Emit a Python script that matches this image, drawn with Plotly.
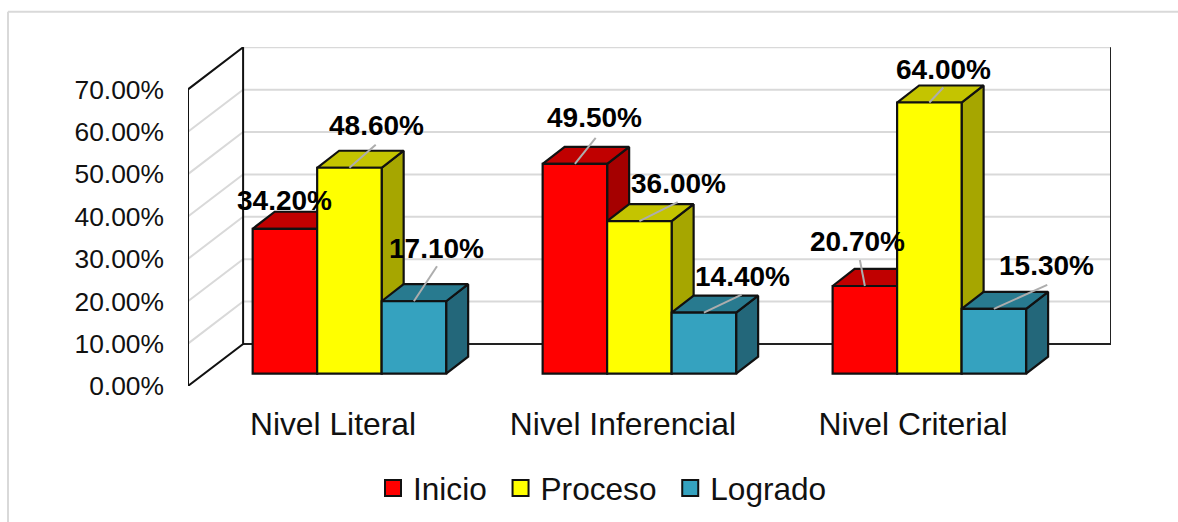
import plotly.graph_objects as go

# Chart data
categories = ["Nivel Literal", "Nivel Inferencial", "Nivel Criterial"]
series_names = ["Inicio", "Proceso", "Logrado"]
inicio = [0.342, 0.495, 0.207]
proceso = [0.486, 0.36, 0.64]
logrado = [0.171, 0.144, 0.153]
y_ticks = [0, 0.1, 0.2, 0.3, 0.4, 0.5, 0.6, 0.7]

series_values = [inicio, proceso, logrado]

# Face colours per series: front, top, side
front_colors = ["#FF0000", "#FFFF00", "#35A2BF"]
top_colors = ["#C00000", "#C4C400", "#287A8F"]
side_colors = ["#A50000", "#A6A600", "#23677A"]

# Oblique projection, in axis units
X_RANGE = [-0.5, 2.683]
Y_RANGE = [0, 0.80]
WALL_DX, WALL_DY = 0.19, 0.0993
BAR_WIDTH = 0.2224
BAR_DX, BAR_DY = 0.0759, 0.0402
BAR_FLOOR = 0.029
GROUP_SHIFT = 0.0566
EDGE = "#111111"
EDGE_WIDTH = 2.2
GRID = "#D9D9D9"
LEADER = "#ADADAD"
FONT = "Liberation Sans"

# Label centre and leader end, as pixel offsets from each bar's top front edge
label_offsets = [
    [(0, 28), (26.6, 42), (23, 52.7)],
    [(20, 46), (39, 38), (39, 36.5)],
    [(-7, 44.7), (14.6, 33.3), (53, 43)],
]
leader_ends = [
    [(0, 0), (26.3, 23), (23.1, 35)],
    [(20.8, 26), (38.3, 19), (37.8, 18)],
    [(-5, 26), (14, 15), (53.4, 24)],
]

L, R, T, B = 188, 67, 47.3, 136.3
WIDTH, HEIGHT = 1178, 522
plot_w = WIDTH - L - R
plot_h = HEIGHT - T - B

fig = go.Figure()


def line_trace(xs, ys, color, width=2):
    return go.Scatter(
        x=xs, y=ys, mode="lines", line=dict(color=color, width=width),
        showlegend=False, hoverinfo="skip", cliponaxis=False,
    )


def face_trace(xs, ys, color):
    return go.Scatter(
        x=xs + xs[:1], y=ys + ys[:1], mode="lines", fill="toself", fillcolor=color,
        line=dict(color=EDGE, width=EDGE_WIDTH), showlegend=False, hoverinfo="skip",
        cliponaxis=False,
    )


# Walls: gridlines on the side and back walls
back_left = X_RANGE[0] + WALL_DX
back_right = X_RANGE[1]
for tick in y_ticks[1:]:
    fig.add_trace(line_trace([X_RANGE[0], back_left, back_right],
                             [tick, tick + WALL_DY, tick + WALL_DY], GRID))

# Wall outlines
fig.add_trace(line_trace([back_left, back_right, back_right],
                         [WALL_DY, WALL_DY, y_ticks[-1] + WALL_DY], "#222222"))
fig.add_trace(line_trace(
    [X_RANGE[0], X_RANGE[0], back_left, back_left, X_RANGE[0]],
    [0, y_ticks[-1], y_ticks[-1] + WALL_DY, WALL_DY, 0], "#111111"))

# Tops and sides of the bars, painted in series order
for s, values in enumerate(series_values):
    for c, v in enumerate(values):
        x0 = c + GROUP_SHIFT + (s - 1.5) * BAR_WIDTH
        x1 = x0 + BAR_WIDTH
        y0 = BAR_FLOOR
        y1 = BAR_FLOOR + v
        fig.add_trace(face_trace([x1, x1 + BAR_DX, x1 + BAR_DX, x1],
                                 [y0, y0 + BAR_DY, y1 + BAR_DY, y1], side_colors[s]))
        fig.add_trace(face_trace([x0, x1, x1 + BAR_DX, x0 + BAR_DX],
                                 [y1, y1, y1 + BAR_DY, y1 + BAR_DY], top_colors[s]))

# Front faces sit on an overlaid pair of axes so they cover the faces behind them
for s, values in enumerate(series_values):
    fig.add_trace(go.Bar(
        x=[c + GROUP_SHIFT + (s - 1) * BAR_WIDTH for c in range(len(categories))],
        y=values, base=BAR_FLOOR, width=BAR_WIDTH, xaxis="x2", yaxis="y2",
        marker=dict(color=front_colors[s], line=dict(color=EDGE, width=EDGE_WIDTH)),
        showlegend=False, hoverinfo="skip",
    ))

# Legend entries; a trailing no-break space widens the gap between entries
legend_padding = ["\u00a0", "\u00a0", ""]
for s, name in enumerate(series_names):
    fig.add_trace(go.Scatter(
        x=[None], y=[None], mode="markers", name=name + legend_padding[s],
        marker=dict(symbol="square", size=16, color=front_colors[s],
                    line=dict(color=EDGE, width=2)),
    ))

# Value labels with their leader lines
shapes = []
annotations = []
for c in range(len(categories)):
    for s, values in enumerate(series_values):
        v = values[c]
        xc = c + GROUP_SHIFT + (s - 1) * BAR_WIDTH
        yc = BAR_FLOOR + v
        dx, dy = leader_ends[c][s]
        if dx or dy:
            shapes.append(dict(
                type="line", xref="x", yref="y", xsizemode="pixel", ysizemode="pixel",
                xanchor=xc, yanchor=yc, x0=0, y0=0, x1=dx, y1=dy,
                line=dict(color=LEADER, width=2), layer="above",
            ))
        lx, ly = label_offsets[c][s]
        annotations.append(dict(
            x=xc, y=yc, xref="x", yref="y", xshift=lx, yshift=ly,
            text=f"<b>{v * 100:.2f}%</b>", showarrow=False,
            xanchor="center", yanchor="middle",
            font=dict(family=FONT, size=28, color="#000000"),
        ))

# Outer chart frame: left and top edges only, placed in paper units
def paper_x(px):
    return (px - L) / plot_w


def paper_y(px):
    return (HEIGHT - B - px) / plot_h


frame = dict(color=GRID, width=2)
shapes.append(dict(type="line", xref="paper", yref="paper", x0=paper_x(8), x1=paper_x(8),
                   y0=paper_y(12), y1=paper_y(HEIGHT), line=frame, layer="below"))
shapes.append(dict(type="line", xref="paper", yref="paper", x0=paper_x(8), x1=paper_x(WIDTH),
                   y0=paper_y(12), y1=paper_y(12), line=frame, layer="below"))

fig.update_layout(
    width=WIDTH, height=HEIGHT,
    autosize=False,
    margin=dict(l=L, r=R, t=T, b=B, pad=0, autoexpand=False),
    paper_bgcolor="#FFFFFF", plot_bgcolor="rgba(0,0,0,0)",
    barmode="overlay",
    shapes=shapes, annotations=annotations,
    font=dict(family=FONT, color="#000000"),
    xaxis=dict(
        range=X_RANGE, tickmode="array", tickvals=list(range(len(categories))),
        ticktext=categories, showgrid=False, zeroline=False, showline=False,
        ticks="", tickfont=dict(family=FONT, size=31.8, color="#111111"),
        ticklabelstandoff=16, fixedrange=True,
    ),
    yaxis=dict(
        range=Y_RANGE, tickmode="array", tickvals=y_ticks, tickformat=".2%",
        showgrid=False, zeroline=False, showline=False,
        ticks="", tickfont=dict(family=FONT, size=26.4, color="#111111"),
        ticklabelstandoff=23, fixedrange=True,
    ),
    xaxis2=dict(range=X_RANGE, overlaying="x", visible=False, fixedrange=True),
    yaxis2=dict(range=Y_RANGE, overlaying="y", visible=False, fixedrange=True),
    legend=dict(
        orientation="h", x=paper_x(373), xanchor="left",
        y=paper_y(488), yanchor="middle", bgcolor="rgba(0,0,0,0)",
        font=dict(family=FONT, size=31.6, color="#111111"),
        itemclick=False, itemdoubleclick=False,
    ),
)

fig.write_html("out.html")
